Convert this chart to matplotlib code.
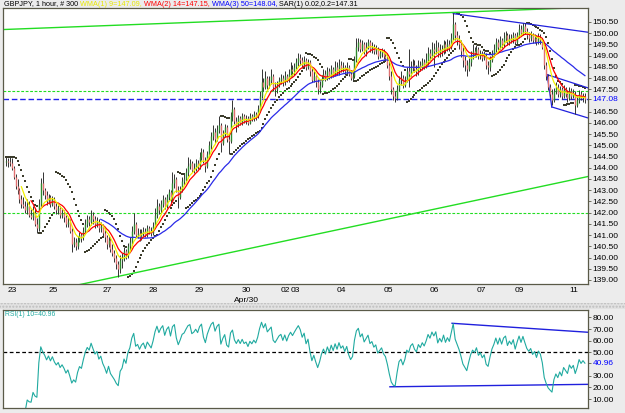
import numpy as np
import matplotlib.pyplot as plt
from matplotlib.patches import Rectangle

# ---- price data (GBPJPY, 1 hour, 300 bars) ----
first_open = 144.25
closes = [
    144.3, 144.25, 144.2, 144.0, 143.6, 143.2, 143.0, 142.6, 142.4, 142.3,
    142.1, 142.3, 141.9, 141.8, 142.0, 141.5, 141.3, 142.4, 143.3, 143.0,
    142.8, 142.5, 142.7, 142.4, 142.6, 142.3, 142.1, 142.2, 141.9, 142.0,
    141.8, 141.5, 141.6, 141.2, 140.6, 140.7, 140.5, 140.8, 141.0, 140.9,
    141.2, 141.5, 141.7, 141.6, 141.9, 141.7, 141.5, 141.6, 141.3, 141.4,
    141.1, 140.9, 140.6, 140.8, 140.4, 140.2, 140.0, 139.7, 139.5, 139.9,
    140.0, 140.3, 140.1, 140.5, 140.7, 141.2, 141.5, 141.0, 141.1, 140.9,
    141.1, 141.2, 141.0, 141.3, 141.2, 141.1, 141.4, 141.9, 142.3, 142.1,
    142.4, 142.6, 142.3, 142.7, 142.9, 142.6, 143.3, 143.5, 143.0, 142.7,
    143.0, 143.4, 143.5, 143.8, 144.1, 144.2, 143.9, 144.0, 144.2, 144.1,
    144.5, 144.7, 144.3, 144.1, 144.6, 145.0, 145.4, 145.6, 145.3, 145.7,
    145.9, 145.1, 145.5, 145.8, 145.3, 145.2, 146.3, 146.6, 146.1, 145.9,
    146.2, 146.0, 146.3, 146.1, 146.2, 146.0, 146.3, 146.2, 146.4, 146.3,
    146.6, 147.2, 147.8, 147.6, 148.0, 147.7, 147.9, 148.1, 147.6, 147.5,
    147.7, 147.9, 148.0, 147.8, 148.1, 147.9, 148.2, 148.4, 148.3, 148.5,
    148.7, 148.9, 148.8, 148.6, 148.8, 148.5, 148.7, 148.3, 147.9, 148.1,
    147.8, 147.5, 147.7, 148.0, 148.2, 148.0, 148.3, 148.1, 148.4, 148.2,
    148.5, 148.3, 148.6, 148.4, 148.5, 148.3, 148.5, 148.2, 148.0, 148.1,
    148.8, 149.4, 149.6, 149.3, 149.5, 149.2, 149.4, 149.6, 149.3, 149.4,
    149.2, 149.3, 149.0, 149.1, 149.2, 149.0, 148.9, 148.6, 148.1, 147.5,
    147.2, 147.1, 147.5, 147.9, 148.0, 147.7, 147.9, 148.3, 148.2, 148.5,
    148.6, 148.4, 148.3, 148.6, 148.5, 148.7, 148.6, 148.8, 149.1, 149.0,
    149.3, 149.2, 149.4, 149.1, 149.3, 149.2, 149.5, 149.3, 149.5, 149.4,
    149.8, 150.4, 149.9, 149.7, 149.5, 149.2, 148.8, 148.6, 148.4, 148.7,
    149.0, 149.2, 149.1, 149.3, 149.0, 149.1, 148.9, 149.0, 148.6, 148.5,
    148.8, 149.1, 149.3, 149.6, 149.4, 149.7, 149.5, 149.8, 149.9, 149.6,
    149.8, 149.7, 149.9, 149.6, 149.9, 150.2, 150.0, 150.3, 150.1, 149.9,
    149.8, 149.9, 149.7, 149.8, 149.6, 149.8, 149.7, 149.4, 148.6, 148.1,
    147.6, 147.3, 147.0, 147.4, 147.6, 147.3, 147.5, 147.2, 147.5, 147.3,
    147.1, 147.4, 147.2, 147.3, 146.8, 147.0, 147.3, 147.1, 147.2, 147.08,
]
highs = [
    144.5, 144.45, 144.5, 144.45, 144.1, 143.7, 143.5, 143.1, 142.8, 142.7,
    142.5, 142.6, 142.5, 142.15, 142.3, 142.2, 141.75, 142.6, 143.55, 143.8,
    143.1, 142.95, 142.85, 142.8, 142.75, 142.7, 142.45, 142.35, 142.3, 142.2,
    142.1, 141.9, 141.8, 141.7, 141.3, 140.9, 140.85, 140.95, 141.15, 141.1,
    141.35, 141.7, 141.9, 141.85, 142.1, 142.05, 141.85, 141.8, 141.7, 141.6,
    141.5, 141.3, 141.0, 140.95, 140.9, 140.6, 140.35, 140.1, 139.85, 140.1,
    140.2, 140.45, 140.4, 140.65, 140.9, 141.4, 142.0, 141.6, 141.3, 141.25,
    141.25, 141.35, 141.3, 141.45, 141.4, 141.35, 141.6, 142.2, 142.6, 142.45,
    142.55, 142.8, 142.7, 142.85, 143.05, 143.0, 143.8, 143.7, 143.6, 143.2,
    143.2, 143.6, 143.7, 144.0, 144.5, 144.4, 144.3, 144.2, 144.4, 144.35,
    144.7, 144.9, 144.85, 144.5, 144.75, 145.2, 145.6, 145.9, 145.75, 145.9,
    146.3, 146.0, 145.7, 145.95, 145.9, 145.5, 146.5, 147.0, 146.7, 146.25,
    146.35, 146.3, 146.45, 146.4, 146.35, 146.3, 146.45, 146.4, 146.55, 146.5,
    146.8, 147.4, 148.4, 148.0, 148.3, 148.1, 148.1, 148.4, 148.2, 147.8,
    147.85, 148.05, 148.2, 148.15, 148.3, 148.2, 148.4, 148.7, 148.6, 148.65,
    148.9, 149.1, 149.05, 148.95, 149.0, 148.9, 148.85, 148.8, 148.45, 148.3,
    148.2, 147.95, 147.85, 148.15, 148.4, 148.35, 148.5, 148.45, 148.6, 148.5,
    148.75, 148.7, 148.85, 148.75, 148.7, 148.6, 148.7, 148.6, 148.35, 148.3,
    149.0, 149.8, 149.8, 149.75, 149.7, 149.6, 149.6, 149.75, 149.7, 149.6,
    149.5, 149.45, 149.4, 149.25, 149.35, 149.3, 149.15, 149.05, 148.8, 148.3,
    147.6, 147.4, 147.7, 148.1, 148.3, 148.15, 148.1, 148.5, 149.3, 148.75,
    148.85, 148.8, 148.6, 148.8, 148.75, 148.9, 148.85, 149.1, 149.4, 149.3,
    149.6, 149.55, 149.7, 149.6, 149.5, 149.45, 149.7, 149.65, 149.75, 149.7,
    150.0, 150.9, 150.5, 150.1, 149.9, 149.7, 149.4, 149.0, 148.8, 148.9,
    149.2, 149.5, 149.4, 149.45, 149.4, 149.25, 149.2, 149.2, 149.1, 148.75,
    149.0, 149.25, 149.5, 149.8, 149.75, 149.85, 149.8, 150.05, 150.1, 150.0,
    149.95, 149.95, 150.05, 150.0, 150.05, 150.4, 150.35, 150.45, 150.45, 150.25,
    150.05, 150.1, 150.0, 149.95, 149.9, 150.0, 149.95, 149.8, 149.5, 148.7,
    148.2, 147.75, 147.5, 147.55, 147.8, 147.75, 147.65, 147.6, 147.7, 147.6,
    147.45, 147.6, 147.55, 147.5, 147.4, 147.2, 147.45, 147.4, 147.35, 147.35,
]
lows = [
    144.1, 144.05, 144.1, 143.9, 143.5, 143.05, 142.85, 142.45, 142.2, 142.2,
    142.0, 141.95, 141.8, 141.7, 141.65, 141.4, 141.1, 141.2, 142.2, 142.8,
    142.6, 142.35, 142.4, 142.25, 142.3, 142.15, 141.95, 141.95, 141.75, 141.75,
    141.6, 141.35, 141.35, 141.1, 140.25, 140.45, 140.35, 140.4, 140.7, 140.7,
    140.8, 141.05, 141.35, 141.4, 141.45, 141.5, 141.3, 141.35, 141.15, 141.15,
    140.95, 140.7, 140.4, 140.45, 140.25, 140.05, 139.8, 139.5, 139.15, 139.3,
    139.55, 139.85, 139.95, 140.0, 140.35, 140.6, 141.05, 140.9, 140.85, 140.75,
    140.8, 140.95, 140.9, 140.9, 141.05, 140.95, 141.0, 141.3, 141.75, 141.95,
    142.0, 142.25, 142.15, 142.2, 142.55, 142.45, 142.5, 143.1, 142.9, 142.2,
    142.6, 142.9, 143.25, 143.4, 143.65, 143.95, 143.8, 143.75, 143.85, 143.95,
    143.95, 144.35, 144.2, 143.8, 144.0, 144.5, 144.85, 145.25, 145.1, 145.2,
    145.55, 144.7, 145.0, 145.35, 145.15, 144.6, 145.1, 146.1, 145.95, 145.6,
    145.8, 145.9, 145.9, 146.0, 145.95, 145.9, 145.95, 146.1, 146.1, 146.15,
    146.2, 146.5, 147.1, 147.4, 147.5, 147.5, 147.55, 147.75, 147.4, 147.2,
    147.35, 147.6, 147.75, 147.65, 147.7, 147.8, 147.8, 148.05, 148.1, 148.15,
    148.4, 148.55, 148.6, 148.45, 148.5, 148.35, 148.4, 148.1, 147.8, 147.8,
    147.6, 147.3, 147.35, 147.6, 147.9, 147.85, 147.9, 147.95, 148.0, 148.05,
    148.1, 148.15, 148.15, 148.25, 148.25, 148.15, 148.2, 148.1, 147.9, 147.85,
    148.0, 148.7, 149.2, 149.15, 149.2, 149.05, 149.0, 149.3, 149.15, 149.1,
    149.05, 149.05, 148.85, 148.9, 148.95, 148.85, 148.75, 148.45, 147.9, 147.3,
    147.0, 146.95, 147.0, 147.4, 147.7, 147.55, 147.6, 147.8, 147.6, 148.1,
    148.3, 148.25, 148.1, 148.15, 148.3, 148.35, 148.4, 148.45, 148.6, 148.8,
    148.9, 148.5, 149.05, 148.95, 148.95, 149.0, 149.05, 149.1, 149.2, 149.2,
    149.3, 149.7, 149.7, 149.45, 149.3, 148.95, 148.5, 148.3, 148.1, 148.3,
    148.55, 148.85, 148.95, 148.95, 148.85, 148.85, 148.75, 148.8, 148.4, 148.2,
    148.3, 148.7, 148.95, 149.15, 149.25, 149.3, 149.35, 149.4, 149.6, 149.45,
    149.45, 149.55, 149.55, 149.45, 149.5, 149.8, 149.85, 149.9, 149.95, 149.75,
    149.6, 149.65, 149.55, 149.55, 149.45, 149.5, 149.5, 149.3, 148.4, 147.9,
    147.45, 147.15, 146.8, 146.95, 147.3, 147.15, 147.15, 147.05, 147.1, 147.15,
    146.95, 147.0, 147.05, 147.1, 146.4, 146.7, 146.9, 147.0, 146.95, 146.9,
]

date_pos = [3.1, 24.3, 52.2, 75.9, 99.7, 124.0, 144.1, 149.3, 173.0, 197.3, 221.0, 245.4, 265.0, 293.4]
date_labels = ["23", "25", "27", "28", "29", "30", "02", "03", "04", "05", "06", "07", "09", "11"]
price_ticks = [139.0, 139.5, 140.0, 140.5, 141.0, 141.5, 142.0, 142.5, 143.0, 143.5, 144.0,
               144.5, 145.0, 145.5, 146.0, 146.5, 147.5, 148.0, 148.5, 149.0, 149.5, 150.0, 150.5]
last_price = 147.08
rsi_ticks = [10, 20, 30, 50, 60, 70, 80]
rsi_last = 40.96

# drawn objects: (bar, price) end points
green_top = ([-1.5, 300.6], [150.16, 151.15])
green_low = ([34.6, 300.6], [138.73, 143.61])
green_levels = [147.4, 142.0]
blue_top = ([231, 300.6], [150.87, 150.04])
chan_up = ([279.5, 300.6], [148.15, 147.56])
chan_dn = ([281.9, 300.6], [146.71, 146.22])
chan_side = ([279.5, 281.9], [148.15, 146.71])
rsi_top = ([230.4, 300.6], [75.0, 67.3])
rsi_low = ([198.3, 300.6], [20.5, 22.6])

title_parts = [("GBPJPY, 1 hour, # 300 ", "black"),
               ("WMA(1) 9=147.09, ", "#e8e800"),
               ("WMA(2) 14=147.15, ", "red"),
               ("WMA(3) 50=148.04, ", "blue"),
               ("SAR(1) 0.02,0.2=147.31", "black")]


def wma(c, n):
    w = np.arange(1, n + 1)
    out = np.full(len(c), np.nan)
    for i in range(n - 1, len(c)):
        out[i] = np.dot(c[i - n + 1:i + 1], w) / w.sum()
    return out


def psar(h, l, step=0.02, mx=0.2):
    n = len(h)
    sar = np.zeros(n)
    bull = False
    af = step
    ep = l[0]
    sar[0] = h[0]
    for i in range(1, n):
        s = sar[i - 1] + af * (ep - sar[i - 1])
        j = max(i - 2, 0)
        if bull:
            s = min(s, l[i - 1], l[j])
            if l[i] < s:
                bull, s, ep, af = False, ep, l[i], step
            elif h[i] > ep:
                ep, af = h[i], min(af + step, mx)
        else:
            s = max(s, h[i - 1], h[j])
            if h[i] > s:
                bull, s, ep, af = True, ep, h[i], step
            elif l[i] < ep:
                ep, af = l[i], min(af + step, mx)
        sar[i] = s
    return sar


def rsi(c, n):
    d = np.diff(c)
    up = np.clip(d, 0, None)
    dn = np.clip(-d, 0, None)
    out = np.full(len(c), np.nan)
    au, ad = up[:n].mean(), dn[:n].mean()
    out[n] = 100 * au / (au + ad)
    for i in range(n, len(d)):
        au = (au * (n - 1) + up[i]) / n
        ad = (ad * (n - 1) + dn[i]) / n
        out[i + 1] = 100 * au / (au + ad)
    return out


c = np.array(closes)
h = np.array(highs)
l = np.array(lows)
o = np.r_[first_open, c[:-1]]
x = np.arange(len(c))

plt.rcParams['font.family'] = ['Liberation Sans', 'DejaVu Sans']
frame = '#5a5a48'
bg = '#ececec'
fs = 6.0

fig = plt.figure(figsize=(6.25, 4.13), dpi=100, facecolor=bg)
ax = fig.add_axes([3 / 625, 1 - 284 / 413, 585 / 625, 276 / 413])
ax2 = fig.add_axes([3 / 625, 1 - 408 / 413, 585 / 625, 98 / 413])

# separator between panels
fig.patches.append(Rectangle((0, 1 - 309 / 413), 1, 6 / 413, transform=fig.transFigure,
                             facecolor='#e2e2e2', edgecolor='#bdbdbd', hatch='.....', lw=0))

# ---- main chart ----
ax.plot(green_top[0], green_top[1], color='#22dd22', lw=1)
ax.plot(green_low[0], green_low[1], color='#22dd22', lw=1)
for lv in green_levels:
    ax.axhline(lv, color='#22dd22', lw=0.8, dashes=(2.5, 1.5))
ax.axhline(last_price, color='#2020ee', lw=1.0, dashes=(4, 2))
for ln in (blue_top, chan_up, chan_dn, chan_side):
    ax.plot(ln[0], ln[1], color='#2020dd', lw=0.9)

ax.vlines(x, l, h, color='#333333', lw=0.7)
up = c >= o
ax.vlines(x[up], o[up], c[up], color='#2e8b2e', lw=1.0)
ax.vlines(x[~up], o[~up], c[~up], color='#e07070', lw=1.0)

ax.plot(x, wma(c, 50), color='#2a2ae8', lw=0.9)
ax.plot(x, wma(c, 14), color='red', lw=0.9)
ax.plot(x, wma(c, 9), color='#f2f200', lw=0.9)
ax.scatter(x, psar(h, l), s=0.9, color='#3c3c2c', marker='s', lw=0)

ax.set_xlim(-1.5, 300.6)
ax.set_ylim(138.82, 151.12)
ax.yaxis.tick_right()
ax.set_yticks(price_ticks + [last_price])
ax.set_yticklabels([f"{v:.2f}" for v in price_ticks] + [f"{last_price:.2f}"])
ax.get_yticklabels()[-1].set_color('blue')
ax.set_xticks(date_pos)
ax.set_xticklabels(date_labels)
ax.tick_params(axis='y', length=2.5, pad=0.8, labelsize=fs, color=frame, width=0.6)
ax.tick_params(axis='x', length=0, pad=2.0, labelsize=fs)
ax.text(124.0, -0.06, "Apr/30", transform=ax.get_xaxis_transform(),
        ha='center', va='center', fontsize=fs)

# ---- RSI ----
r = rsi(c, 10)
ax2.axhline(50, color='black', lw=0.9, dashes=(3, 2))
ax2.plot(rsi_top[0], rsi_top[1], color='#2020dd', lw=1)
ax2.plot(rsi_low[0], rsi_low[1], color='#2020dd', lw=1)
ax2.plot(x, r, color='#20aaa0', lw=0.8)
ax2.set_xlim(-1.5, 300.6)
ax2.set_ylim(2.3, 86.4)
ax2.yaxis.tick_right()
ax2.set_yticks(rsi_ticks + [rsi_last])
ax2.set_yticklabels([f"{v:.2f}" for v in rsi_ticks] + [f"{rsi_last:.2f}"])
ax2.get_yticklabels()[-1].set_color('blue')
ax2.set_xticks([])
ax2.tick_params(axis='y', length=2.5, pad=0.8, labelsize=fs, color=frame, width=0.6)
ax2.text(0.004, 0.985, "RSI(1) 10=40.96", transform=ax2.transAxes, ha='left', va='top',
         fontsize=4.9, color='#20aaa0')

for a in (ax, ax2):
    a.set_facecolor('white')
    for sp in a.spines.values():
        sp.set_color(frame)
        sp.set_linewidth(0.9)

# title with coloured parts
t = fig.text(4 / 625, 1 - 4 / 413, title_parts[0][0], color=title_parts[0][1],
             fontsize=5.2, ha='left', va='center')
for s, col in title_parts[1:]:
    t = ax.annotate(s, xy=(1, 0), xycoords=t, va='bottom', ha='left', color=col,
                    fontsize=5.2, annotation_clip=False)

fig.savefig('out.png', dpi=100, facecolor=bg)
